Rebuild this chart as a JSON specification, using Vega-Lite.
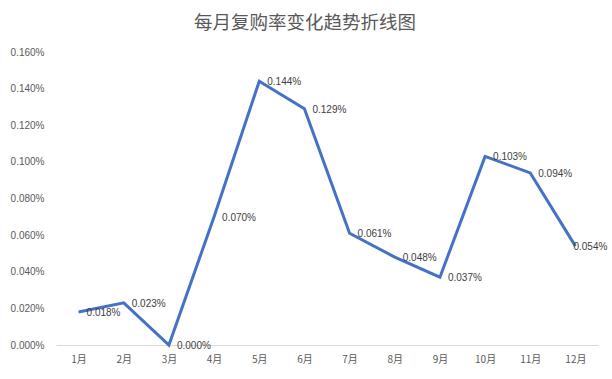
{
  "$schema": "https://vega.github.io/schema/vega-lite/v6.json",
  "width": 542,
  "height": 293,
  "autosize": "none",
  "padding": {"left": 56, "top": 52, "right": 14, "bottom": 34},
  "background": "white",
  "title": {
    "text": "每月复购率变化趋势折线图",
    "font": "Noto Sans CJK SC",
    "fontSize": 18.5,
    "fontWeight": "normal",
    "color": "#595959",
    "anchor": "middle",
    "dx": -22,
    "offset": 15
  },
  "data": {
    "values": [
      {"month": "1月", "rate": 0.00018},
      {"month": "2月", "rate": 0.00023},
      {"month": "3月", "rate": 0.0},
      {"month": "4月", "rate": 0.0007},
      {"month": "5月", "rate": 0.00144},
      {"month": "6月", "rate": 0.00129},
      {"month": "7月", "rate": 0.00061},
      {"month": "8月", "rate": 0.00048},
      {"month": "9月", "rate": 0.00037},
      {"month": "10月", "rate": 0.00103},
      {"month": "11月", "rate": 0.00094},
      {"month": "12月", "rate": 0.00054}
    ]
  },
  "config": {
    "view": {"stroke": null},
    "font": "Noto Sans CJK SC"
  },
  "encoding": {
    "x": {
      "field": "month",
      "type": "ordinal",
      "sort": null,
      "scale": {"paddingInner": 0, "paddingOuter": 0},
      "axis": {
        "title": null,
        "labelAngle": 0,
        "ticks": false,
        "grid": false,
        "domainColor": "#d9d9d9",
        "domainWidth": 1,
        "labelColor": "#595959",
        "labelFontSize": 10,
        "labelPadding": 9,
        "labelFont": "Noto Sans CJK SC"
      }
    },
    "y": {
      "field": "rate",
      "type": "quantitative",
      "scale": {"domain": [0, 0.0016], "nice": false},
      "axis": {
        "title": null,
        "format": ".3%",
        "values": [0, 0.0002, 0.0004, 0.0006, 0.0008, 0.001, 0.0012, 0.0014, 0.0016],
        "grid": false,
        "ticks": false,
        "domain": false,
        "labelColor": "#595959",
        "labelFontSize": 10,
        "labelPadding": 12,
        "labelFont": "Liberation Sans"
      }
    }
  },
  "layer": [
    {
      "mark": {"type": "line", "color": "#4472C4", "strokeWidth": 3, "strokeJoin": "miter"}
    },
    {
      "transform": [{"filter": "datum.month !== '12月'"}],
      "mark": {"type": "text", "align": "left", "baseline": "middle", "dx": 8, "dy": 1, "fontSize": 10, "color": "#404040", "font": "Liberation Sans"},
      "encoding": {"text": {"field": "rate", "type": "quantitative", "format": ".3%"}}
    },
    {
      "transform": [{"filter": "datum.month === '12月'"}],
      "mark": {"type": "text", "align": "left", "baseline": "middle", "dx": -2, "dy": 1, "fontSize": 10, "color": "#404040", "font": "Liberation Sans"},
      "encoding": {"text": {"field": "rate", "type": "quantitative", "format": ".3%"}}
    }
  ]
}
